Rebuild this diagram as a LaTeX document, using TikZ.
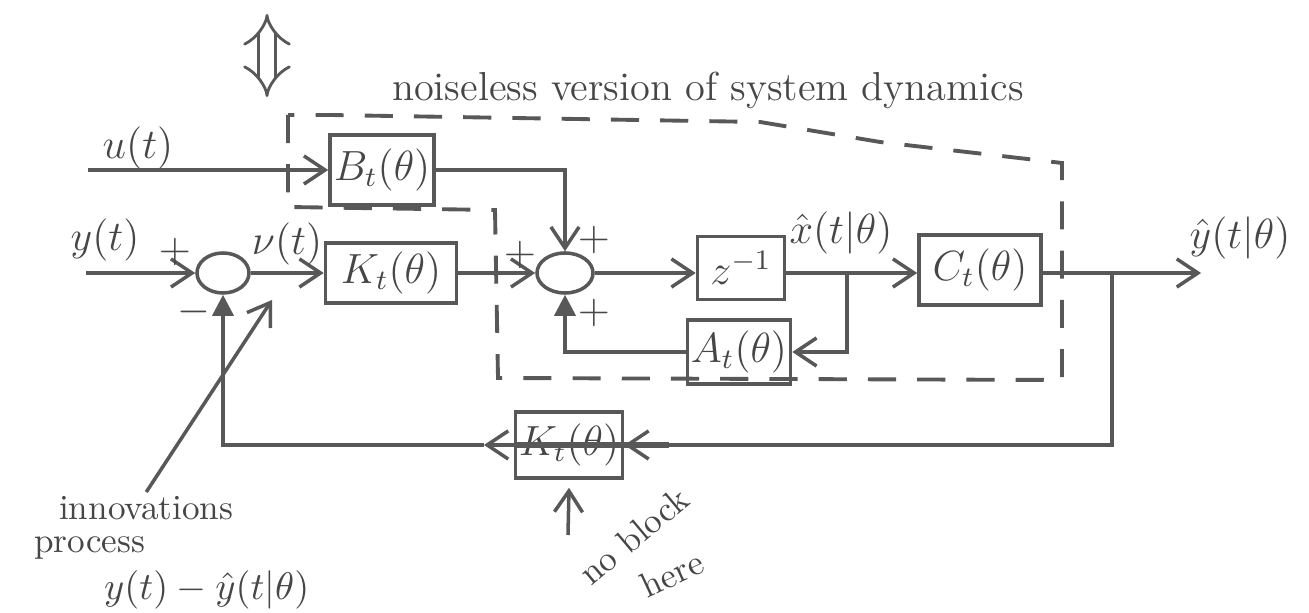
\documentclass[tikz,border=0pt]{standalone}
\usepackage{amsmath,amssymb}
\usepackage{xcolor}
\definecolor{pencil}{RGB}{88,88,88}
\definecolor{lead}{RGB}{70,70,70}
\usepackage{tikz}
\usetikzlibrary{
  arrows.meta,
  positioning,
  shapes.geometric,
  calc
}
\tikzset{
  blockbox/.style={draw=pencil, line width=1pt, text=lead,
    inner sep=1pt, align=center, font=\large},
  sumnode/.style={draw=pencil, line width=1pt, ellipse,
    minimum width=0.52cm, minimum height=0.4cm, inner sep=0pt},
  lbl/.style={text=lead, font=\large, inner sep=1pt},
  note/.style={text=lead, font=\normalsize, inner sep=1pt},
  sgn/.style={text=lead, font=\large, inner sep=0pt},
  arr/.style={-{Straight Barb[length=6pt,width=8pt]}, line width=1pt, draw=pencil},
  arrf/.style={-{Triangle[length=6pt,width=6pt]}, line width=1pt, draw=pencil},
}

\begin{document}
\begin{tikzpicture}[
  x=0.01cm, y=-0.01cm,
  dashbox/.style={draw=pencil, line width=1.1pt, dash pattern=on 8pt off 6pt},
  strike/.style={draw=pencil, line width=1.8pt},
  dbl/.style={draw=pencil, line width=0.8pt, double, double distance=4pt,
    {Implies}-{Implies}}
]
  \useasboundingbox (0,0) rectangle (1309,613);

  % blocks and summing points
  \node[blockbox, minimum width=1.04cm, minimum height=0.70cm] (bt) at (382,170) {$B_t(\theta)$};
  \node[blockbox, minimum width=1.31cm, minimum height=0.60cm] (kt) at (391,273) {$K_t(\theta)$};
  \node[blockbox, minimum width=0.87cm, minimum height=0.63cm] (zinv) at (741,268) {$z^{-1}$};
  \node[blockbox, minimum width=1.22cm, minimum height=0.70cm] (ct) at (980,270) {$C_t(\theta)$};
  \node[blockbox, minimum width=0.92cm, minimum height=0.64cm] (at) at (739,352) {$A_t(\theta)$};
  \node[blockbox, minimum width=1.02cm, minimum height=0.66cm] (kf) at (569,445) {$K_t(\theta)$};
  \node[sumnode] (sa) at (223,273) {};
  \node[sumnode, minimum width=0.56cm] (sb) at (565,273) {};

  % free ends
  \coordinate (uin) at (88,170);
  \coordinate (yin) at (86,273);
  \coordinate (yout) at (1201,273);
  \coordinate (xbr) at (847,273);
  \coordinate (ybr) at (1112,273);
  \coordinate (fbm) at (484,445);
  \coordinate (dtop) at (267,14);
  \coordinate (dbot) at (267,97);
  \coordinate (nubase) at (272,300);
  \coordinate (upbase) at (568,535);

  % noiseless part
  \draw[dashbox] (288,115) -- (288,207) -- (495,210) -- (498,378)
    -- (1062,380) -- (1062,163) -- (880,142) -- (760,122) -- (330,115) -- cycle;
  \node[lbl, font=\fontsize{11.5}{14}\selectfont] (noisetxt) at (708,90) {noiseless version of system dynamics};
  \draw[dbl] (dtop) -- (dbot);

  % forward path
  \draw[arr] (uin) -- (bt.west);
  \draw[arr] (bt.east) -| (sb.north);
  \draw[arr] (yin) -- (sa.west);
  \draw[arr] (sa.east) -- (kt.west);
  \draw[arr] (kt.east) -- (sb.west);
  \draw[arr] (sb.east) -- (sb.east -| zinv.west);
  \draw[arr] (zinv.east |- sb.east) -- (ct.west |- sb.east);
  \draw[arr] (ct.east |- sb.east) -- (yout);
  \draw[arr] (xbr) |- (at.east);
  \draw[arrf] (at.west) -| (sb.south);

  % feedback
  \draw[arr] (ybr) |- (kf.east);
  \draw[strike] (kf.west) -- ($(kf.east)+(45,0)$);
  \draw[arr] (kf.west) -- (fbm);
  \draw[arrf] (fbm) -| (sa.south);

  % signals
  \node[lbl] (ulbl) at (138,148) {$u(t)$};
  \node[lbl] (ylbl) at (105,240) {$y(t)$};
  \node[lbl] (nulbl) at (287,244) {$\nu(t)$};
  \node[lbl] (xlbl) at (841,233) {$\hat{x}(t|\theta)$};
  \node[lbl] (yhlbl) at (1240,238) {$\hat{y}(t|\theta)$};
  \node[sgn] (pa) at (175,252) {$+$};
  \node[sgn] (ma) at (194,312) {$-$};
  \node[sgn] (pb) at (520,255) {$+$};
  \node[sgn] (pc) at (594,240) {$+$};
  \node[sgn] (pd) at (594,313) {$+$};

  % notes
  \node[note, anchor=west] (innov) at (55,508) {innovations};
  \node[note, anchor=west] (proc) at (30,548) {process};
  \node[note, anchor=west, font=\fontsize{11}{13}\selectfont] (innoveq) at (100,590) {$y(t)-\hat{y}(t|\theta)$};
  \draw[arr] (innov.north) -- (nubase);
  \draw[arr] (upbase) -- ($(kf.south)+(0,8)$);
  \node[note, rotate=40] (noblk) at (634,536) {no block};
  \node[note, rotate=25] (here) at (672,574) {here};
\end{tikzpicture}
\end{document}
